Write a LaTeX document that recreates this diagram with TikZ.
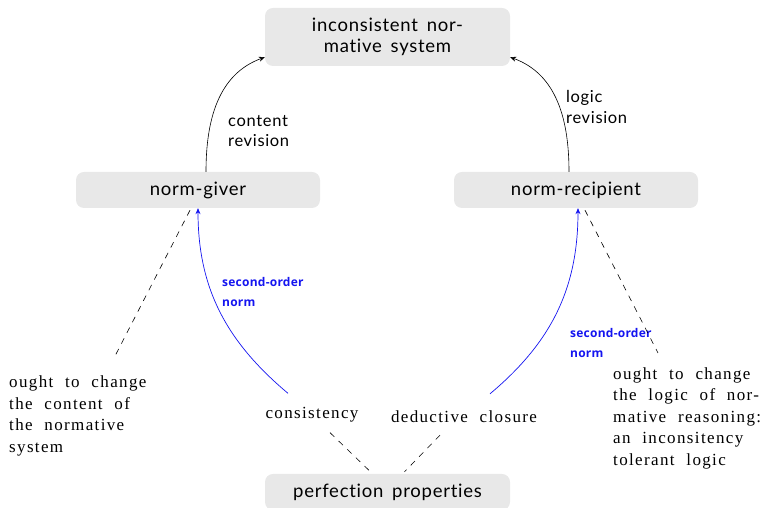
\documentclass[tikz,border=0pt]{standalone}
\usepackage{fontspec}
\setmainfont{Liberation Serif}[LetterSpace=8,WordSpace=2.1]
\newfontfamily\boxfont{Lato}[LetterSpace=4,WordSpace=1.6,Ligatures=NoCommon,RawFeature=-dlig;-liga]
\newfontfamily\lblfont{Open Sans}[LetterSpace=2]
\usetikzlibrary{arrows.meta}
\definecolor{boxgray}{RGB}{232,232,232}
\definecolor{normblue}{RGB}{20,20,240}
\tikzset{
  graybox/.style={fill=boxgray, rounded corners=8pt, inner sep=0pt, align=center,
    font=\boxfont\fontsize{18.5}{21}\selectfont},
  revlbl/.style={align=left, anchor=west, inner sep=0pt, font=\boxfont\fontsize{16.5}{20.5}\selectfont},
  bluelbl/.style={align=left, anchor=west, inner sep=0pt, text=normblue,
    font=\lblfont\bfseries\fontsize{12}{20}\selectfont},
  serif/.style={align=left, inner sep=0pt, font=\fontsize{17}{21.5}\selectfont},
  revarrow/.style={-{Stealth[length=6pt,width=5pt]}, line width=0.6pt},
  bluearrow/.style={-{Stealth[length=6pt,width=5pt]}, line width=0.7pt, draw=normblue},
  dashline/.style={dash pattern=on 6pt off 6pt, line width=0.6pt}
}
\begin{document}
\begin{tikzpicture}[x=1pt,y=1pt]
\useasboundingbox (0,0) rectangle (764,508);
\node[graybox, minimum width=245pt, minimum height=58pt] (top) at (387.5,471) {inconsistent nor-\\mative system};
\node[graybox, minimum width=244pt, minimum height=36pt] (giver) at (198,318) {norm-giver};
\node[graybox, minimum width=244pt, minimum height=36pt] (recip) at (576,318) {norm-recipient};
\node[graybox, minimum width=245pt, minimum height=36pt] (perf) at (387.5,16) {perfection properties};

\node[revlbl] (crev) at (228,377) {content\\revision};
\node[revlbl] (lrev) at (566,401) {logic\\revision};

\node[bluelbl] (sonl) at (222,216) {second-order\\norm};
\node[bluelbl] (sonr) at (570,165) {second-order\\norm};

\node[serif, anchor=west] (oughtl) at (9,92) {ought to change\\the content of\\the normative\\system};
\node[serif, anchor=west] (oughtr) at (613,90) {ought to change\\the logic of nor-\\mative reasoning:\\an inconsitency\\tolerant logic};

\node[serif, inner sep=0pt] (cons) at (312,93) {consistency};
\node[serif, inner sep=0pt] (ded) at (464,91) {deductive closure};

\coordinate (dl) at (114,150);
\coordinate (dr) at (658,155);

\draw[revarrow] ([xshift=8pt]giver.north) to[out=90,in=200] ([yshift=9pt]top.south west);
\draw[revarrow] ([xshift=-7pt]recip.north) to[out=90,in=-20] ([yshift=9pt]top.south east);

\draw[bluearrow] ([shift={(-24pt,14pt)}]cons.north) to[out=140,in=-90] (giver.south);
\draw[bluearrow] ([shift={(26pt,17pt)}]ded.north) to[out=40,in=-90] ([xshift=2pt]recip.south);

\draw[dashline] ([xshift=-8pt,yshift=-2pt]giver.south) -- (dl);
\draw[dashline] ([xshift=9pt,yshift=-2pt]recip.south) -- (dr);
\draw[dashline] ([shift={(18pt,-10pt)}]cons.south) -- ([xshift=-17pt,yshift=2pt]perf.north);
\draw[dashline] ([shift={(-24pt,-12pt)}]ded.south) -- ([xshift=17pt,yshift=2pt]perf.north);
\end{tikzpicture}
\end{document}
